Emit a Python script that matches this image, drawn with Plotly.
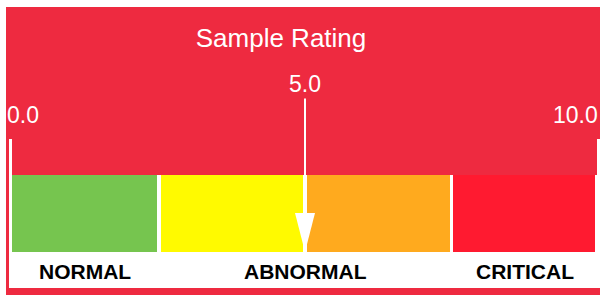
import plotly.graph_objects as go

# ---- data ----
title_text = "Sample Rating"
segment_edges = [0, 2.5, 5, 7.5, 10]
segment_colors = ["#76C54F", "#FFFA00", "#FFAA1E", "#FF1A30"]
zone_labels = ["NORMAL", "ABNORMAL", "CRITICAL"]
zone_starts = [0, 2.5, 7.5]
zone_ends = [2.5, 7.5, 10]
value = 5.0
range_min, range_max = 0, 10
min_label, max_label = "0.0", "10.0"

BG_RED = "#EE2A40"
W, H = 600, 298
PL, PR, PT, PB = 9, 600, 139, 288   # plot area in pixels
X0PX, X10PX = 12, 598                # pixel of value 0 and 10
pxu = (X10PX - X0PX) / (range_max - range_min)
xr = [range_min - (X0PX - PL) / pxu, range_max + (PR - X10PX) / pxu]
BAR_TOP, BAR_BOT = 175, 252
pyu = BAR_BOT - BAR_TOP
yr = [-(PB - BAR_BOT) / pyu, (BAR_BOT - PT) / pyu]


def px_x(px):
    return (px - PL) / (PR - PL)


def px_y(py):
    return (PB - py) / (PB - PT)


gap = 4 / pxu
centers = [(a + b) / 2 for a, b in zip(segment_edges[:-1], segment_edges[1:])]
widths = [(b - a) - gap for a, b in zip(segment_edges[:-1], segment_edges[1:])]
# keep outer edges flush with the bar frame
centers[0] -= gap / 4
widths[0] += gap / 2
centers[-1] -= gap / 4
widths[-1] += 0

fig = go.Figure()
fig.add_trace(go.Bar(
    x=centers, y=[1] * len(centers), width=widths, base=0,
    marker=dict(color=segment_colors, line=dict(width=0)),
    hoverinfo="skip", showlegend=False,
))

# arrow head (triangle) pointing at value
head_half = 10 / pxu
head_top = (BAR_BOT - 213) / pyu
fig.add_trace(go.Scatter(
    x=[value - head_half, value + head_half, value, value - head_half],
    y=[head_top, head_top, 0, head_top],
    mode="lines", fill="toself", fillcolor="white",
    line=dict(width=0, color="white"), hoverinfo="skip", showlegend=False,
))

shapes = [
    # white frame pieces
    dict(type="rect", xref="paper", yref="paper", x0=px_x(0), x1=px_x(W), y0=px_y(0), y1=px_y(7),
         fillcolor="white", line_width=0, layer="below"),
    dict(type="rect", xref="paper", yref="paper", x0=px_x(0), x1=px_x(6), y0=px_y(0), y1=px_y(H),
         fillcolor="white", line_width=0, layer="below"),
    dict(type="rect", xref="paper", yref="paper", x0=px_x(0), x1=px_x(W), y0=px_y(295), y1=px_y(H),
         fillcolor="white", line_width=0, layer="below"),
    # white panel
    dict(type="rect", xref="paper", yref="paper", x0=px_x(PL), x1=px_x(PR), y0=px_y(PT), y1=px_y(PB),
         fillcolor="white", line_width=0, layer="below"),
    # red strip above the bars
    dict(type="rect", xref="paper", yref="paper", x0=px_x(12), x1=px_x(597), y0=px_y(PT), y1=px_y(BAR_TOP),
         fillcolor=BG_RED, line_width=0, layer="below"),
]

annotations = []
# value label with arrow line
annotations.append(dict(
    x=value, y=head_top, xref="x", yref="y", text=f"{value:.1f}",
    showarrow=True, arrowhead=0, arrowwidth=2, arrowcolor="white",
    ax=0, ay=-(213 - 84), standoff=0,
    font=dict(family="Liberation Sans, Arial", size=23, color="white"),
))
# min / max labels
label_y = px_y(115)
annotations.append(dict(
    x=range_min, y=label_y, xref="x", yref="paper", text=min_label, showarrow=False,
    xanchor="left", yanchor="middle", xshift=-7,
    font=dict(family="Liberation Sans, Arial", size=23, color="white"),
))
annotations.append(dict(
    x=range_max, y=label_y, xref="x", yref="paper", text=max_label, showarrow=False,
    xanchor="right", yanchor="middle", xshift=2,
    font=dict(family="Liberation Sans, Arial", size=23, color="white"),
))
# zone labels
zone_y = (BAR_BOT - 271) / pyu
for lab, a, b in zip(zone_labels, zone_starts, zone_ends):
    annotations.append(dict(
        x=(a + b) / 2, y=zone_y, xref="x", yref="y", text=f"<b>{lab}</b>", showarrow=False,
        xanchor="center", yanchor="middle",
        font=dict(family="Liberation Sans, Arial", size=21, color="black"),
    ))

fig.update_layout(
    width=W, height=H,
    margin=dict(l=PL, r=W - PR, t=PT, b=H - PB, pad=0),
    paper_bgcolor=BG_RED, plot_bgcolor="rgba(0,0,0,0)",
    title=dict(text=title_text, x=281 / W, xanchor="center", xref="container",
               y=1 - 38 / H, yanchor="middle", yref="container",
               font=dict(family="Liberation Sans, Arial", size=26, color="white")),
    xaxis=dict(range=xr, visible=False, fixedrange=True),
    yaxis=dict(range=yr, visible=False, fixedrange=True),
    bargap=0, shapes=shapes, annotations=annotations, showlegend=False,
)

fig.write_html(
    "out.html",
    config={"displayModeBar": False},
    post_script="document.body.style.margin='0px';document.body.style.overflow='hidden';",
)
